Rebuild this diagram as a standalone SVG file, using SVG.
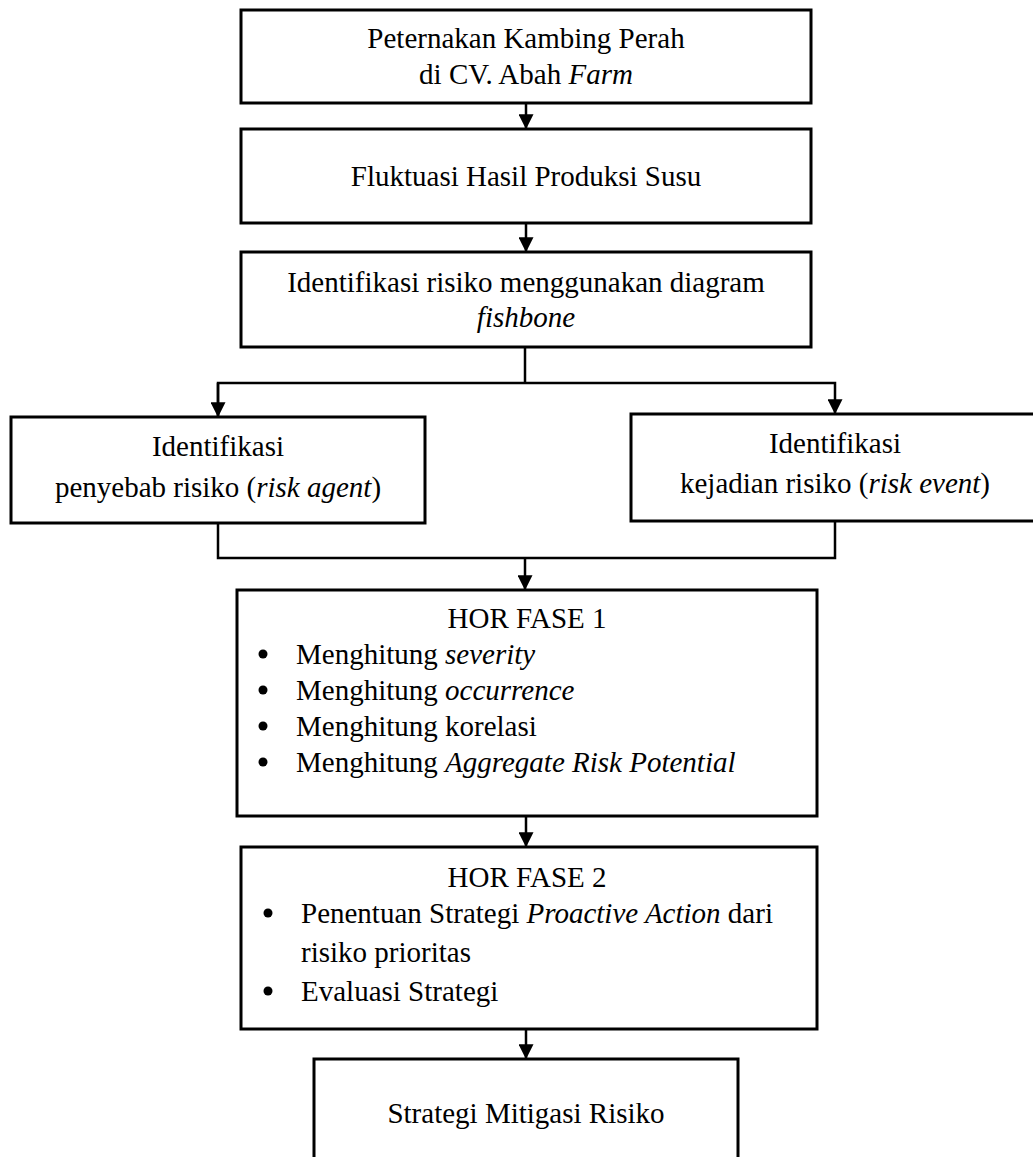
<svg xmlns="http://www.w3.org/2000/svg" width="1033" height="1157" viewBox="0 0 1033 1157">
<style>
.box{fill:#fff;stroke:#000;stroke-width:3}
.t{font-family:"Liberation Serif","Times New Roman",serif;font-size:29px;fill:#000}
.c{text-anchor:middle}
.i{font-style:italic}
.ln{fill:none;stroke:#000;stroke-width:2.5}
</style>
<defs>
<marker id="ah" markerWidth="6" markerHeight="6" refX="5.5" refY="3" orient="auto" markerUnits="strokeWidth"><path d="M0,0 L6,3 L0,6 z" fill="#000"/></marker>
</defs>
<rect width="1033" height="1157" fill="#fff"/>
<g id="connectors">
<line class="ln" x1="526" y1="103" x2="526" y2="128" marker-end="url(#ah)"/>
<line class="ln" x1="526" y1="223" x2="526" y2="251" marker-end="url(#ah)"/>
<polyline class="ln" points="525,347 525,383"/>
<polyline class="ln" points="218,416 218,383 835,383 835,413" marker-end="url(#ah)"/>
<line class="ln" x1="218" y1="383" x2="218" y2="416" marker-end="url(#ah)"/>
<polyline class="ln" points="218,523 218,558 835,558 835,521"/>
<line class="ln" x1="525" y1="558" x2="525" y2="589" marker-end="url(#ah)"/>
<line class="ln" x1="526" y1="816" x2="526" y2="846" marker-end="url(#ah)"/>
<line class="ln" x1="526" y1="1029" x2="526" y2="1058" marker-end="url(#ah)"/>
</g>
<g id="n1"><rect class="box" x="241" y="10" width="570" height="93"/>
<text class="t c" x="526" y="48">Peternakan Kambing Perah</text>
<text class="t c" x="526" y="84">di CV. Abah <tspan class="i">Farm</tspan></text></g>
<g id="n2"><rect class="box" x="241" y="129" width="570" height="94"/>
<text class="t c" x="526" y="186">Fluktuasi Hasil Produksi Susu</text></g>
<g id="n3"><rect class="box" x="241" y="252" width="570" height="95"/>
<text class="t c" x="526" y="292">Identifikasi risiko menggunakan diagram</text>
<text class="t c i" x="526" y="327">fishbone</text></g>
<g id="n4"><rect class="box" x="11" y="417" width="414" height="106"/>
<text class="t c" x="218" y="456">Identifikasi</text>
<text class="t c" x="218" y="497">penyebab risiko (<tspan class="i">risk agent</tspan>)</text></g>
<g id="n5"><rect class="box" x="631" y="414" width="410" height="107"/>
<text class="t c" x="835" y="453">Identifikasi</text>
<text class="t c" x="835" y="493">kejadian risiko (<tspan class="i">risk event</tspan>)</text></g>
<g id="n6"><rect class="box" x="237" y="590" width="580" height="226"/>
<text class="t c" x="527" y="628">HOR FASE 1</text>
<g class="t"><circle cx="263" cy="654" r="4.5"/><text x="296" y="664">Menghitung <tspan class="i">severity</tspan></text>
<circle cx="263" cy="690" r="4.5"/><text x="296" y="700">Menghitung <tspan class="i">occurrence</tspan></text>
<circle cx="263" cy="726" r="4.5"/><text x="296" y="736">Menghitung korelasi</text>
<circle cx="263" cy="762" r="4.5"/><text x="296" y="772">Menghitung <tspan class="i">Aggregate Risk Potential</tspan></text></g></g>
<g id="n7"><rect class="box" x="241" y="847" width="576" height="182"/>
<text class="t c" x="527" y="887">HOR FASE 2</text>
<g class="t"><circle cx="268" cy="913" r="4.5"/><text x="301" y="923">Penentuan Strategi <tspan class="i">Proactive Action</tspan> dari</text>
<text x="301" y="962">risiko prioritas</text>
<circle cx="268" cy="991" r="4.5"/><text x="301" y="1001">Evaluasi Strategi</text></g></g>
<g id="n8"><rect class="box" x="314" y="1059" width="424" height="110"/>
<text class="t c" x="526" y="1123">Strategi Mitigasi Risiko</text></g>
</svg>
